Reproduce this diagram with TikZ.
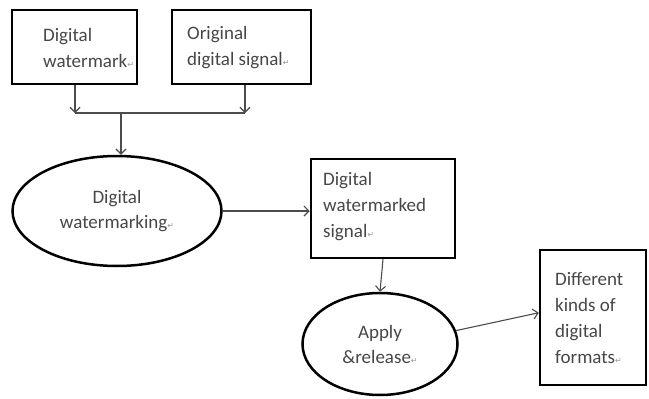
\documentclass[tikz,border=0pt]{standalone}
\usepackage{fontspec}
\setmainfont{Carlito}
\newfontfamily\wmretfont{DejaVu Sans}
\usetikzlibrary{arrows.meta,shapes.geometric}
\newcommand{\wmret}{{\wmretfont\fontsize{8}{8}\selectfont\color{black!40}↵}}
\begin{document}
\begin{tikzpicture}[x=1pt,y=-1pt,
  box/.style={draw, line width=2.5pt, rectangle, inner sep=0pt},
  oval/.style={draw, line width=2.5pt, ellipse, inner sep=0pt, align=center,
    font=\fontsize{19}{25}\selectfont, text=black!72},
  txt/.style={font=\fontsize{19}{26}\selectfont, text=black!72, inner sep=0pt, align=left, anchor=west},
  arr/.style={draw=black!70, line width=1.1pt, -{Straight Barb[length=5pt,width=10pt]}},
  ln/.style={draw=black!70, line width=1.1pt}]
\useasboundingbox (0,0) rectangle (649,399);
\fill[white] (0,0) rectangle (649,399);

% boxes
\node[box, minimum width=125pt, minimum height=74pt] (b1) at (74.5,47) {};
\node[box, minimum width=139pt, minimum height=74pt] (b2) at (241.5,47) {};
\node[box, minimum width=144pt, minimum height=99pt] (b3) at (383,208.5) {};
\node[box, minimum width=106pt, minimum height=135pt] (b4) at (593,317.5) {};

% box texts
\node[txt] (t1) at (43,48) {Digital\\watermark\wmret};
\node[txt] (t2) at (187,48) {Original\\digital signal\wmret};
\node[txt] (t3) at (323,207) {Digital\\watermarked\\signal\wmret};
\node[txt] (t4) at (555,318) {Different\\kinds of\\digital\\formats\wmret};

% ellipses
\node[oval, minimum width=209pt, minimum height=110pt] (e1) at (117,211) {Digital\\watermarking\wmret};
\node[oval, minimum width=155pt, minimum height=102pt] (e2) at (380,344) {Apply\\\&release\wmret};

% junction
\coordinate (jl) at (75,113);
\coordinate (jr) at (245,113);
\coordinate (jm) at (121,113);

\draw[arr] (b1.south -| jl) -- (jl);
\draw[arr] (b2.south -| jr) -- (jr);
\draw[ln] (jl) -- (jr);
\draw[arr] (jm) -- (e1.north -| jm);
\draw[arr] (e1.east) -- (e1.east -| b3.west);
\draw[arr] (b3.south) -- (e2.north);
\draw[arr] (e2.10) -- (b4.175);
\end{tikzpicture}
\end{document}
